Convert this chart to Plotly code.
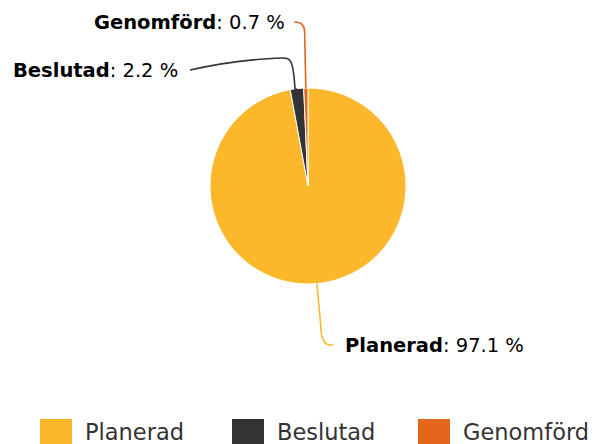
import math
import plotly.graph_objects as go

# ---- data ----
categories = ["Planerad", "Beslutad", "Genomförd"]
values = [97.1, 2.2, 0.7]
colors = ["#FDB72B", "#333333", "#E4661B"]

# ---- layout constants (pixels in the final screenshot) ----
W, H = 596, 444
OFF = 8                      # page body margin added by the browser
CX, CY, R = 308, 186, 98
FONT = "DejaVu Sans"
LABEL_Y = [345, 70, 22]
LABEL_DX = [25, -118, -11]
RADIAL_EXT = [40, 24, 56]
LABEL_GAP = 10
LEG_X = [40, 232, 418]
LEG_Y = 432
LEG_SQ = 32


def px(x):
    return (x - OFF) / W


def py(y):
    return 1 - (y - OFF) / H


fig = go.Figure()
fig.add_trace(go.Pie(
    labels=categories,
    values=values,
    marker=dict(colors=colors, line=dict(color="#ffffff", width=1)),
    sort=False,
    direction="clockwise",
    rotation=0,
    textinfo="none",
    hoverinfo="label+percent",
    showlegend=False,
    domain=dict(x=[px(CX - R), px(CX + R)], y=[py(CY + R), py(CY - R)]),
))

shapes = []
annotations = []
total = sum(values)
cum = 0.0
for i, (cat, v, col) in enumerate(zip(categories, values, colors)):
    mid = (cum + v / 2) / total * 2 * math.pi
    cum += v
    s, c = math.sin(mid), math.cos(mid)
    x0, y0 = CX + R * s, CY - R * c
    ext = RADIAL_EXT[i]
    x1, y1 = CX + (R + ext) * s, CY - (R + ext) * c
    ly = LABEL_Y[i]
    ex = CX + LABEL_DX[i]
    side = 1 if ex > x1 else -1
    path = (f"M {px(x0)},{py(y0)} "
            f"L {px(x1)},{py(y1)} "
            f"Q {px(x1 + (x1 - x0) * 0.05)},{py(ly)} {px(x1 + side * 10)},{py(ly)} "
            f"L {px(ex)},{py(ly)}")
    if i == 1:
        path = (f"M {px(x0)},{py(y0)} "
                f"L {px(x1 + 1)},{py(y1 + 28)} "
                f"C {px(x1 - 1)},{py(ly - 14)} {px(x1 - 4)},{py(ly - 12)} {px(x1 - 14)},{py(ly - 12)} "
                f"Q {px(x1 - 60)},{py(ly - 10)} {px(ex)},{py(ly)}")
    shapes.append(dict(type="path", xref="paper", yref="paper", path=path,
                       line=dict(color=col, width=1.6)))
    annotations.append(dict(
        xref="paper", yref="paper",
        x=px(ex + side * LABEL_GAP), y=py(ly),
        xanchor="left" if side > 0 else "right", yanchor="middle",
        text=f"<b>{cat}</b>: {v} %",
        showarrow=False,
        font=dict(family=FONT, size=19.5, color="#000000"),
    ))

for i, (cat, col) in enumerate(zip(categories, colors)):
    lx = LEG_X[i]
    shapes.append(dict(type="rect", xref="paper", yref="paper",
                       x0=px(lx), x1=px(lx + LEG_SQ),
                       y0=py(LEG_Y + LEG_SQ / 2 + 2), y1=py(LEG_Y - LEG_SQ / 2 + 3),
                       fillcolor=col, line=dict(width=0)))
    annotations.append(dict(
        xref="paper", yref="paper",
        x=px(lx + LEG_SQ + 11), y=py(LEG_Y),
        xanchor="left", yanchor="middle",
        text=cat, showarrow=False,
        font=dict(family=FONT, size=22.5, color="#333333"),
    ))

fig.update_layout(
    width=W, height=H,
    margin=dict(l=0, r=0, t=0, b=0),
    paper_bgcolor="#ffffff",
    plot_bgcolor="#ffffff",
    shapes=shapes,
    annotations=annotations,
    showlegend=False,
)

fig.write_html("out.html")
